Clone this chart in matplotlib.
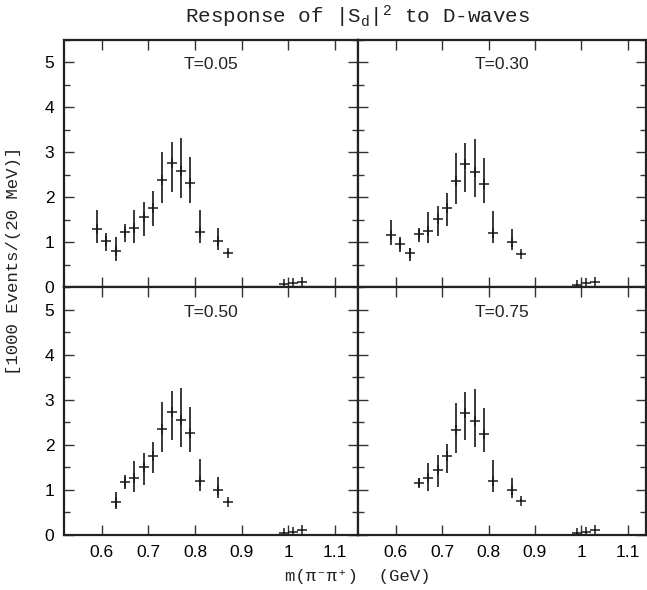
import numpy as np
import matplotlib
matplotlib.use("Agg")
from matplotlib import pyplot as plt
from matplotlib.ticker import MultipleLocator

plt.rcParams["font.family"] = ["Liberation Sans", "DejaVu Sans"]
plt.rcParams["mathtext.fontset"] = "custom"
plt.rcParams["mathtext.rm"] = "Liberation Mono"
plt.rcParams["mathtext.it"] = "Liberation Mono"

# bin centres (GeV), 20 MeV bins
mass = [0.59, 0.61, 0.63, 0.65, 0.67, 0.69, 0.71, 0.73, 0.75, 0.77, 0.79,
        0.81, 0.85, 0.87, 0.99, 1.01, 1.03]

# T = 0.05
y_005 = [1.29, 1.03, 0.81, 1.22, 1.31, 1.56, 1.77, 2.38, 2.77, 2.58, 2.31,
         1.23, 1.03, 0.77, 0.07, 0.09, 0.12]
hi_005 = [1.72, 1.21, 1.12, 1.40, 1.72, 1.89, 2.14, 3.00, 3.24, 3.31, 2.89,
          1.72, 1.31, 0.80, 0.07, 0.09, 0.12]
lo_005 = [0.98, 0.81, 0.59, 1.01, 0.99, 1.14, 1.36, 1.87, 2.12, 1.99, 1.87,
          0.99, 0.83, 0.74, 0.07, 0.09, 0.12]

# T = 0.30
y_030 = [1.16, 0.96, 0.76, 1.18, 1.26, 1.51, 1.77, 2.37, 2.75, 2.56, 2.29,
         1.20, 1.00, 0.75, 0.05, 0.09, 0.11]
hi_030 = [1.50, 1.11, 0.88, 1.32, 1.67, 1.81, 2.09, 2.98, 3.21, 3.29, 2.87,
          1.70, 1.30, 0.78, 0.05, 0.09, 0.11]
lo_030 = [0.93, 0.78, 0.59, 1.01, 0.98, 1.13, 1.37, 1.85, 2.11, 2.00, 1.87,
          0.99, 0.83, 0.72, 0.05, 0.09, 0.11]

# T = 0.50 (no 0.59 / 0.61 bins)
mass_050 = mass[2:]
y_050 = [0.74, 1.17, 1.27, 1.50, 1.76, 2.35, 2.73, 2.55, 2.27, 1.20, 1.00,
         0.74, 0.05, 0.07, 0.11]
hi_050 = [0.95, 1.33, 1.64, 1.82, 2.07, 2.95, 3.19, 3.26, 2.84, 1.69, 1.28,
          0.77, 0.05, 0.07, 0.11]
lo_050 = [0.57, 1.02, 0.96, 1.10, 1.37, 1.84, 2.11, 1.96, 1.85, 0.98, 0.82,
          0.71, 0.05, 0.07, 0.11]

# T = 0.75 (starts at 0.65)
mass_075 = mass[3:]
y_075 = [1.16, 1.27, 1.44, 1.76, 2.33, 2.72, 2.53, 2.25, 1.19, 0.99, 0.76,
         0.04, 0.07, 0.11]
hi_075 = [1.26, 1.59, 1.78, 2.02, 2.93, 3.17, 3.24, 2.83, 1.67, 1.27, 0.79,
          0.04, 0.07, 0.11]
lo_075 = [1.07, 0.98, 1.07, 1.37, 1.83, 2.10, 1.96, 1.84, 0.96, 0.82, 0.73,
          0.04, 0.07, 0.11]

labels = ["T=0.05", "T=0.30", "T=0.50", "T=0.75"]
xticks = [0.6, 0.7, 0.8, 0.9, 1.0, 1.1]
xticklabels = ["0.6", "0.7", "0.8", "0.9", "1", "1.1"]
yticks = [0, 1, 2, 3, 4, 5]

panels = [
    (mass, y_005, lo_005, hi_005),
    (mass, y_030, lo_030, hi_030),
    (mass_050, y_050, lo_050, hi_050),
    (mass_075, y_075, lo_075, hi_075),
]

W, H = 647, 590
fig = plt.figure(figsize=(W / 100, H / 100), dpi=100)

xl, xm, xr = 64, 357.7, 646.3
yt, ym, yb = 40, 287.3, 535
rects = [
    (xl, yt, xm, ym, (0.519, 1.149)),
    (xm, yt, xr, ym, (0.518, 1.140)),
    (xl, ym, xm, yb, (0.519, 1.149)),
    (xm, ym, xr, yb, (0.518, 1.140)),
]

for i, ((x0, y0, x1, y1, xlim), (xs, ys, lo, hi)) in enumerate(zip(rects, panels)):
    ax = fig.add_axes([x0 / W, 1 - y1 / H, (x1 - x0) / W, (y1 - y0) / H])
    ys = np.array(ys)
    err = [ys - np.array(lo), np.array(hi) - ys]
    ax.errorbar(xs, ys, yerr=err, fmt="+", color="#1a1a1a", ecolor="#2a2a2a",
                elinewidth=1.3, markersize=6.5, markeredgewidth=1.1, capsize=0)
    ax.set_xlim(*xlim)
    ax.set_ylim(0, 5.5)
    ax.set_xticks(xticks)
    ax.set_yticks(yticks)
    ax.yaxis.set_minor_locator(MultipleLocator(0.5))
    ax.tick_params(which="both", direction="in", top=True, right=True,
                   labelsize=12.5, pad=7, width=1.0, color="#333333")
    ax.tick_params(which="major", length=7)
    ax.tick_params(which="minor", length=4)
    if i >= 2:
        ax.set_xticklabels(xticklabels)
    else:
        ax.set_xticklabels([])
    if i % 2 == 1:
        ax.set_yticklabels([])
    for s in ax.spines.values():
        s.set_linewidth(1.6)
        s.set_color("#222222")
    ax.text(0.5, 0.9, labels[i], transform=ax.transAxes, ha="center",
            va="center", fontsize=12.5, color="#222222")

mono = ["Liberation Mono", "DejaVu Sans Mono"]
fig.text(xm / W, 1 - 17 / H, r"Response of $|\mathrm{S}_\mathrm{d}|^2$ to D-waves",
         ha="center", va="center", family=mono, fontsize=15, color="#222222")
fig.text(xm / W, 1 - 577 / H, "m(π⁻π⁺)  (GeV)",
         ha="center", va="center", family=mono, fontsize=12.5, color="#222222")
fig.text(14 / W, 1 - 261 / H, "[1000 Events/(20 MeV)]", rotation=90,
         ha="center", va="center", family=mono, fontsize=12.5, color="#222222")

fig.savefig("out.png", dpi=100)
